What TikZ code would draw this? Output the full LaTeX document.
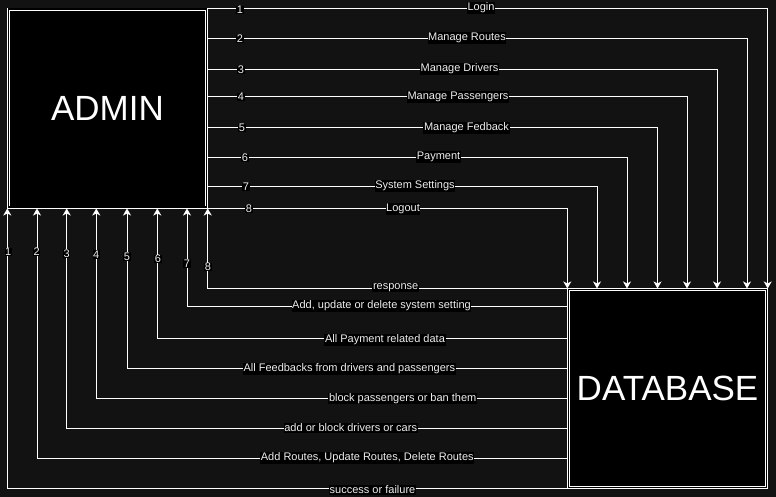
\documentclass[tikz,border=0pt]{standalone}
\usepackage{fontspec}
\setmainfont{Liberation Sans}
\usetikzlibrary{arrows.meta}
\definecolor{BackClr}{RGB}{18,18,18}
\definecolor{TextClr}{RGB}{238,238,238}

\begin{document}
\begin{tikzpicture}[x=1pt,y=-1pt,
  box/.style={draw=white,double=black,line width=0.8pt,double distance=1.6pt,fill=black,
    minimum size=198pt,inner sep=0pt,outer sep=1.2pt,text=white,font=\fontsize{35}{42}\selectfont},
  flow/.style={draw=white,line width=1pt,-{Stealth[length=7pt,width=8pt,inset=2pt]}},
  lbl/.style={fill=black,text=TextClr,inner sep=0.6pt,font=\fontsize{11}{13}\selectfont}]

\useasboundingbox (0,0) rectangle (776,497);
\fill[BackClr] (0,0) rectangle (776,497);

\node[box] (admin) at (107.5,108.3) {ADMIN};
\node[box] (db) at (667.5,388.65) {DATABASE};

% requests
\draw[flow] (admin.north east) -| (db.north east);
\draw[flow] (admin.east |- 0,39) -| (db.north -| 747,0);
\draw[flow] (admin.east |- 0,70) -| (db.north -| 717,0);
\draw[flow] (admin.east |- 0,97) -| (db.north -| 687,0);
\draw[flow] (admin.east |- 0,128) -| (db.north -| 657.5,0);
\draw[flow] (admin.east |- 0,158) -| (db.north -| 627,0);
\draw[flow] (admin.east |- 0,186.5) -| (db.north -| 597,0);
\draw[flow] (admin.south east) -| (db.north west);

% answers
\draw[flow] (db.north west) -| (admin.south east);
\draw[flow] (db.west |- 0,306.5) -| (admin.south -| 187,0);
\draw[flow] (db.west |- 0,338.3) -| (admin.south -| 157.3,0);
\draw[flow] (db.west |- 0,368.3) -| (admin.south -| 127,0);
\draw[flow] (db.west |- 0,398.3) -| (admin.south -| 96.3,0);
\draw[flow] (db.west |- 0,428.3) -| (admin.south -| 66.7,0);
\draw[flow] (db.west |- 0,458.3) -| (admin.south -| 37,0);
\draw[flow] (db.south west) -| (admin.south west);

\node[lbl] (t1) at (240,10) {1};    \node[lbl] (l1) at (481,8) {Login};
\node[lbl] (t2) at (240,39) {2};    \node[lbl] (l2) at (467,38) {Manage Routes};
\node[lbl] (t3) at (241,70) {3};    \node[lbl] (l3) at (459.5,69) {Manage Drivers};
\node[lbl] (t4) at (241,97) {4};    \node[lbl] (l4) at (458,97) {Manage Passengers};
\node[lbl] (t5) at (242,128) {5};   \node[lbl] (l5) at (466.5,128) {Manage Fedback};
\node[lbl] (t6) at (245,158) {6};   \node[lbl] (l6) at (438.5,157) {Payment};
\node[lbl] (t7) at (246,187) {7};   \node[lbl] (l7) at (415,186) {System Settings};
\node[lbl] (t8) at (249,209) {8};   \node[lbl] (l8) at (403,209) {Logout};

\node[lbl] (b1) at (8.3,252) {1};   \node[lbl] (m1) at (372.5,490) {success or failure};
\node[lbl] (b2) at (36.7,252) {2};  \node[lbl] (m2) at (367.3,458) {Add Routes, Update Routes, Delete Routes};
\node[lbl] (b3) at (66.7,253.3) {3};\node[lbl] (m3) at (350.7,428) {add or block drivers or cars};
\node[lbl] (b4) at (96.3,254.3) {4};\node[lbl] (m4) at (402.7,398.3) {block passengers or ban them};
\node[lbl] (b5) at (127,256.7) {5}; \node[lbl] (m5) at (349.3,369) {All Feedbacks from drivers and passengers};
\node[lbl] (b6) at (158,259) {6};   \node[lbl] (m6) at (385,340) {All Payment related data};
\node[lbl] (b7) at (187,263.3) {7}; \node[lbl] (m7) at (381.5,306) {Add, update or delete system setting};
\node[lbl] (b8) at (208,267) {8};   \node[lbl] (m8) at (395.7,287.3) {response};

\end{tikzpicture}
\end{document}
